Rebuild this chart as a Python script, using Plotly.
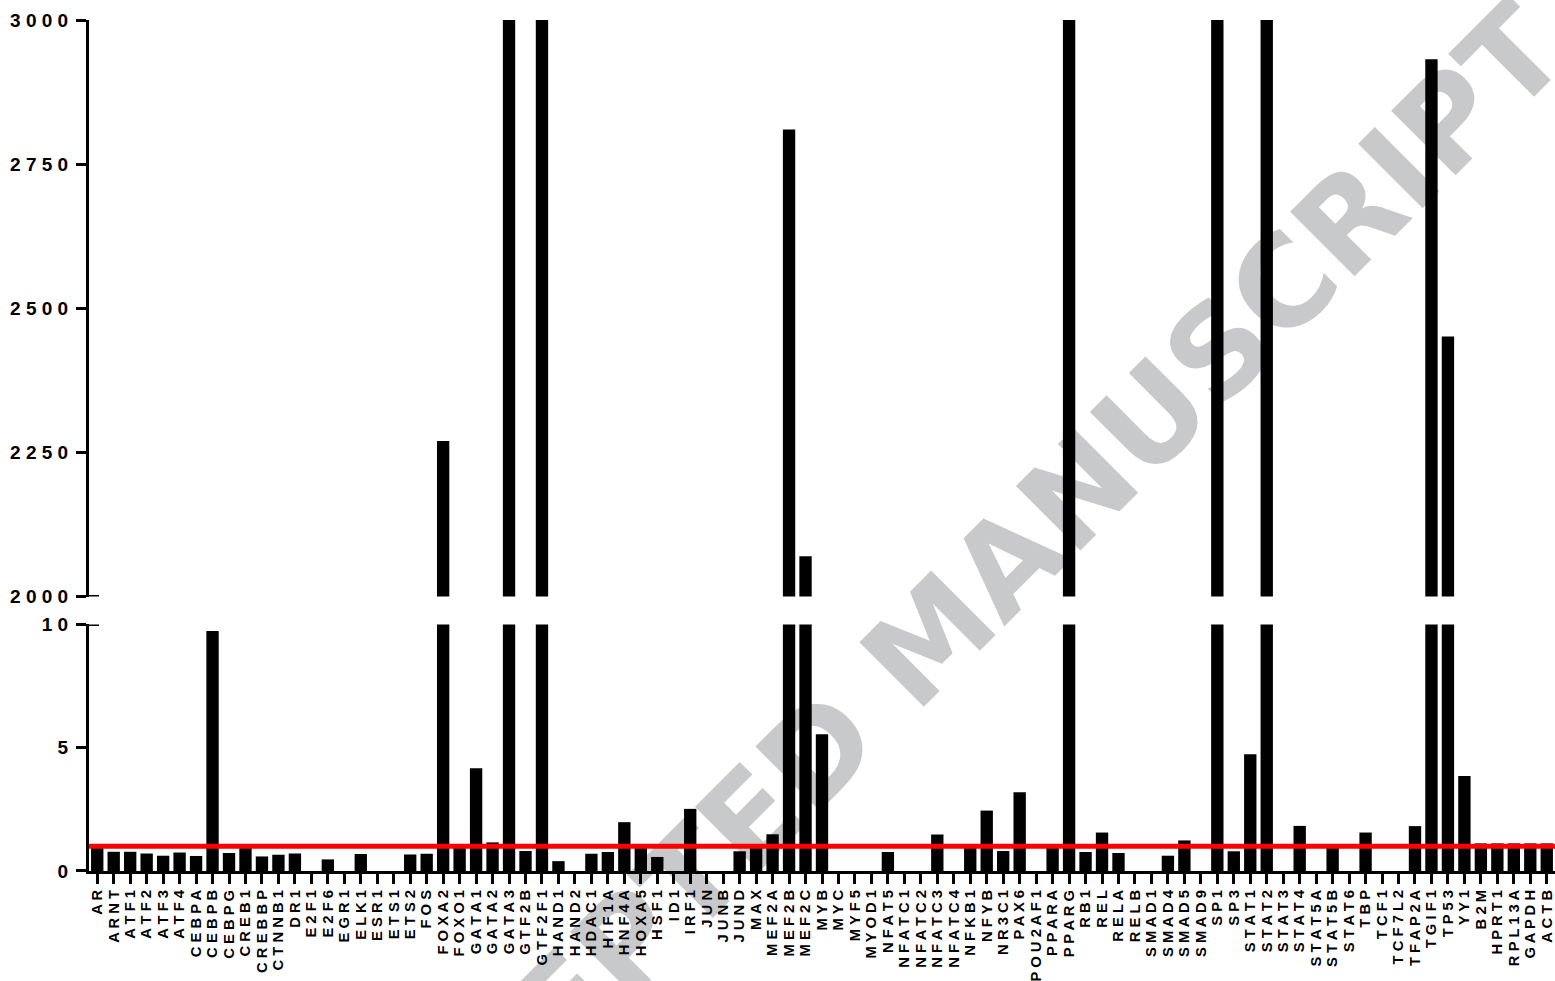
import plotly.graph_objects as go

# Relative expression per transcription factor (fold change vs control)
genes = [
    "AR", "ARNT", "ATF1", "ATF2", "ATF3", "ATF4", "CEBPA", "CEBPB", "CEBPG", "CREB1",
    "CREBBP", "CTNNB1", "DR1", "E2F1", "E2F6", "EGR1", "ELK1", "ESR1", "ETS1", "ETS2",
    "FOS", "FOXA2", "FOXO1", "GATA1", "GATA2", "GATA3", "GTF2B", "GTF2F1", "HAND1", "HAND2",
    "HDAC1", "HIF1A", "HNF4A", "HOXA5", "HSF1", "ID1", "IRF1", "JUN", "JUNB", "JUND",
    "MAX", "MEF2A", "MEF2B", "MEF2C", "MYB", "MYC", "MYF5", "MYOD1", "NFAT5", "NFATC1",
    "NFATC2", "NFATC3", "NFATC4", "NFKB1", "NFYB", "NR3C1", "PAX6", "POU2AF1", "PPARA", "PPARG",
    "RB1", "REL", "RELA", "RELB", "SMAD1", "SMAD4", "SMAD5", "SMAD9", "SP1", "SP3",
    "STAT1", "STAT2", "STAT3", "STAT4", "STAT5A", "STAT5B", "STAT6", "TBP", "TCF1", "TCF7L2",
    "TFAP2A", "TGIF1", "TP53", "YY1", "B2M", "HPRT1", "RPL13A", "GAPDH", "ACTB",
]

fold_change = [
    0.95, 0.78, 0.78, 0.71, 0.62, 0.75, 0.61, 9.73, 0.73, 0.95,
    0.59, 0.66, 0.71, 0.0, 0.47, 0.0, 0.69, 0.0, 0.0, 0.67,
    0.70, 2270, 0.95, 4.17, 1.16, 3200, 0.81, 3200, 0.40, 0.0,
    0.70, 0.77, 1.98, 0.95, 0.57, 0.0, 2.52, 0.0, 0.0, 0.80,
    0.95, 1.49, 2810, 2070, 5.55, 0.0, 0.0, 0.0, 0.77, 0.0,
    0.0, 1.48, 0.0, 0.95, 2.45, 0.81, 3.19, 0.0, 0.95, 3200,
    0.77, 1.56, 0.73, 0.0, 0.0, 0.62, 1.24, 0.0, 3200, 0.80,
    4.74, 3200, 0.0, 1.83, 0.0, 0.95, 0.0, 1.56, 0.0, 0.0,
    1.82, 2932, 2451, 3.85, 1.12, 1.12, 1.12, 1.12, 1.12,
]

threshold = 1.0

upper_ticks = [2000, 2250, 2500, 2750, 3000]
lower_ticks = [0, 5, 10]

FONT = "Liberation Sans, Arial, sans-serif"

# figure geometry (pixels)
W, H = 1555, 981
ML, MR, MT, MB = 89, 0, 20, 105
PW, PH = W - ML - MR, H - MT - MB


def spaced(s):
    return " ".join(s)


def px_to_paper(px, py):
    return (px - ML) / PW, (H - MB - py) / PH


upper_dom = [(H - MB - 600) / PH, 1.0]
lower_dom = [0.0, (H - MB - 628) / PH]

fig = go.Figure()
for xa, ya in (("x", "y"), ("x2", "y2")):
    fig.add_trace(go.Bar(
        x=genes, y=fold_change, xaxis=xa, yaxis=ya,
        marker=dict(color="black", line=dict(width=0)),
        showlegend=False, hoverinfo="x+y",
    ))

tickfont = dict(family=FONT, size=19, color="black", weight="bold")
axis_common = dict(showline=True, linecolor="black", linewidth=3, ticks="outside",
                   ticklen=10, tickwidth=3, tickcolor="black", showgrid=False,
                   zeroline=False, tickfont=tickfont)

fig.update_layout(
    width=W, height=H,
    margin=dict(l=ML, r=MR, t=MT, b=MB),
    paper_bgcolor="white", plot_bgcolor="rgba(0,0,0,0)",
    bargap=0.25,
    xaxis=dict(domain=[0, 1], anchor="y", range=[-0.5, 88.5], visible=False,
               type="category", categoryorder="array", categoryarray=genes),
    yaxis=dict(domain=upper_dom, anchor="x", range=[2000, 3000],
               tickvals=upper_ticks, ticktext=[spaced(str(v)) for v in upper_ticks],
               ticklabelstandoff=4, **axis_common),
    xaxis2=dict(domain=[0, 1], anchor="y2", range=[-0.5, 88.5], type="category",
                categoryorder="array", categoryarray=genes,
                showline=True, linecolor="black", linewidth=3, ticks="outside",
                ticklen=10, tickwidth=3, tickcolor="black", showgrid=False,
                tickvals=genes, ticktext=[spaced(g) for g in genes], tickangle=-90,
                tickfont=dict(family=FONT, size=14.8, color="black", weight="bold")),
    yaxis2=dict(domain=lower_dom, anchor="x2", range=[0, 10],
                tickvals=lower_ticks, ticktext=[spaced(str(v)) for v in lower_ticks],
                ticklabelstandoff=4, **axis_common),
)

# threshold line at fold change = 1
fig.add_shape(type="line", xref="x2 domain", yref="y2", x0=0, x1=1,
              y0=threshold, y1=threshold, line=dict(color="#ff0000", width=5))

# caps at the axis break
cap = 10 / PW
fig.add_shape(type="line", xref="paper", yref="y", x0=-cap, x1=cap, y0=2000, y1=2000,
              line=dict(color="black", width=3))
fig.add_shape(type="line", xref="paper", yref="y2", x0=-cap, x1=cap, y0=10, y1=10,
              line=dict(color="black", width=3))

# diagonal watermark behind the bars
wx, wy = px_to_paper(933, 627)
fig.add_shape(type="rect", xref="paper", yref="paper", layer="below",
              x0=wx - 0.0005, x1=wx + 0.0005, y0=wy - 0.0005, y1=wy + 0.0005,
              line=dict(width=0), fillcolor="rgba(0,0,0,0)",
              label=dict(text="ACCEPTED MANUSCRIPT", textangle=-45,
                         textposition="middle center",
                         font=dict(family="DejaVu Sans", size=125, color="#c8c9cb",
                                   weight="bold")))

fig.write_html("out.html")
